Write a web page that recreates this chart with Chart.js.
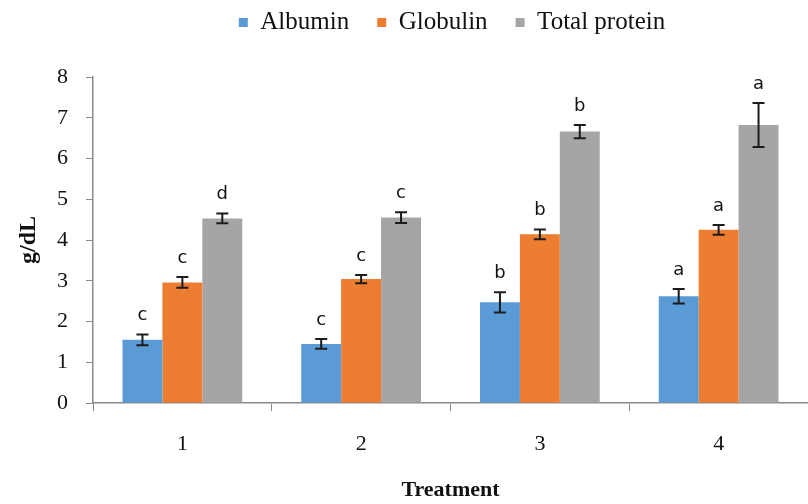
<!DOCTYPE html>
<html>
<head>
<meta charset="utf-8">
<script src="https://cdn.jsdelivr.net/npm/chart.js@4/dist/chart.umd.min.js"></script>
<style>
  html, body { margin: 0; padding: 0; background: #fff; overflow: hidden; }
  #wrap { width: 808px; height: 504px; }
</style>
</head>
<body>
<div id="wrap"><canvas id="grafica" width="808" height="504"></canvas></div>
<script>
// Datos
const tratamientos = ['1', '2', '3', '4'];
const albumina = [1.55, 1.45, 2.47, 2.62];
const albuminaErr = [0.13, 0.12, 0.25, 0.18];
const albuminaLetras = ['c', 'c', 'b', 'a'];
const globulina = [2.96, 3.04, 4.14, 4.25];
const globulinaErr = [0.13, 0.10, 0.12, 0.12];
const globulinaLetras = ['c', 'c', 'b', 'a'];
const proteinaTotal = [4.53, 4.55, 6.66, 6.82];
const proteinaTotalErr = [0.12, 0.13, 0.16, 0.54];
const proteinaTotalLetras = ['d', 'c', 'b', 'a'];
const ticksY = [0, 1, 2, 3, 4, 5, 6, 7, 8];

const serif = "'Liberation Serif', 'Times New Roman', serif";
const ejeColor = '#8a8a8a';

// Barras de error + letras de significancia
const pluginErrores = {
  id: 'errores',
  afterDatasetsDraw(chart) {
    const ctx = chart.ctx;
    const y = chart.scales.y;
    chart.data.datasets.forEach((ds, i) => {
      const meta = chart.getDatasetMeta(i);
      meta.data.forEach((bar, j) => {
        const v = ds.data[j];
        const e = ds.errores[j];
        const top = y.getPixelForValue(v + e);
        const bot = y.getPixelForValue(v - e);
        ctx.save();
        ctx.strokeStyle = '#1c1c1c';
        ctx.lineWidth = 2;
        ctx.beginPath();
        ctx.moveTo(bar.x, top); ctx.lineTo(bar.x, bot);
        ctx.moveTo(bar.x - 6, top); ctx.lineTo(bar.x + 6, top);
        ctx.moveTo(bar.x - 6, bot); ctx.lineTo(bar.x + 6, bot);
        ctx.stroke();
        ctx.fillStyle = '#111';
        ctx.font = "18px 'DejaVu Sans', sans-serif";
        ctx.textAlign = 'center';
        ctx.textBaseline = 'bottom';
        ctx.fillText(ds.letras[j], bar.x, top - 10);
        ctx.restore();
      });
    });
  }
};

// Leyenda: más espacio debajo y desplazada como en el original
const pluginLeyenda = {
  id: 'moverLeyenda',
  beforeInit(chart) {
    const fitOriginal = chart.legend.fit;
    chart.legend.fit = function () {
      fitOriginal.call(this);
      this.height += 14;
    };
  },
  afterLayout(chart) {
    chart.legend.left += 48;
    chart.legend.right += 48;
    chart.legend.top -= 18;
    chart.legend.bottom -= 18;
  }
};

const ctx = document.getElementById('grafica').getContext('2d');
const grafica = new Chart(ctx, {
  type: 'bar',
  data: {
    labels: tratamientos,
    datasets: [
      { label: 'Albumin', data: albumina, errores: albuminaErr, letras: albuminaLetras, backgroundColor: '#5b9bd5' },
      { label: 'Globulin', data: globulina, errores: globulinaErr, letras: globulinaLetras, backgroundColor: '#ed7d31' },
      { label: 'Total protein', data: proteinaTotal, errores: proteinaTotalErr, letras: proteinaTotalLetras, backgroundColor: '#a5a5a5' }
    ]
  },
  options: {
    responsive: false,
    animation: false,
    categoryPercentage: 0.67,
    barPercentage: 1.0,
    layout: { padding: { left: 0, right: 0, top: 0, bottom: 0 } },
    plugins: {
      legend: {
        position: 'top',
        labels: {
          boxWidth: 9,
          boxHeight: 9,
          padding: 28,
          color: '#111',
          font: { family: serif, size: 25 }
        }
      },
      tooltip: { enabled: false }
    },
    scales: {
      x: {
        grid: { display: true, drawOnChartArea: false, drawTicks: true, tickLength: 8, color: ejeColor, offset: true },
        border: { color: ejeColor, width: 1.5 },
        ticks: { color: '#111', font: { family: serif, size: 22 }, padding: 20 },
        title: { display: true, text: 'Treatment', color: '#111', font: { family: serif, size: 22, weight: 'bold' }, padding: { top: 0, bottom: 0 } },
        afterFit(scale) { scale.height = 101; }
      },
      y: {
        min: 0,
        max: 8,
        afterBuildTicks(scale) { scale.ticks = ticksY.map(v => ({ value: v })); },
        grid: { display: true, drawOnChartArea: false, drawTicks: true, tickLength: 7, color: ejeColor },
        border: { color: ejeColor, width: 1.5 },
        ticks: { color: '#111', font: { family: serif, size: 22 }, padding: 18 },
        title: { display: true, text: 'g/dL', color: '#111', font: { family: serif, size: 24, weight: 'bold' }, padding: { top: 14, bottom: 0 } },
        afterFit(scale) { scale.width = 93; }
      }
    }
  },
  plugins: [pluginErrores, pluginLeyenda]
});
</script>
</body>
</html>
